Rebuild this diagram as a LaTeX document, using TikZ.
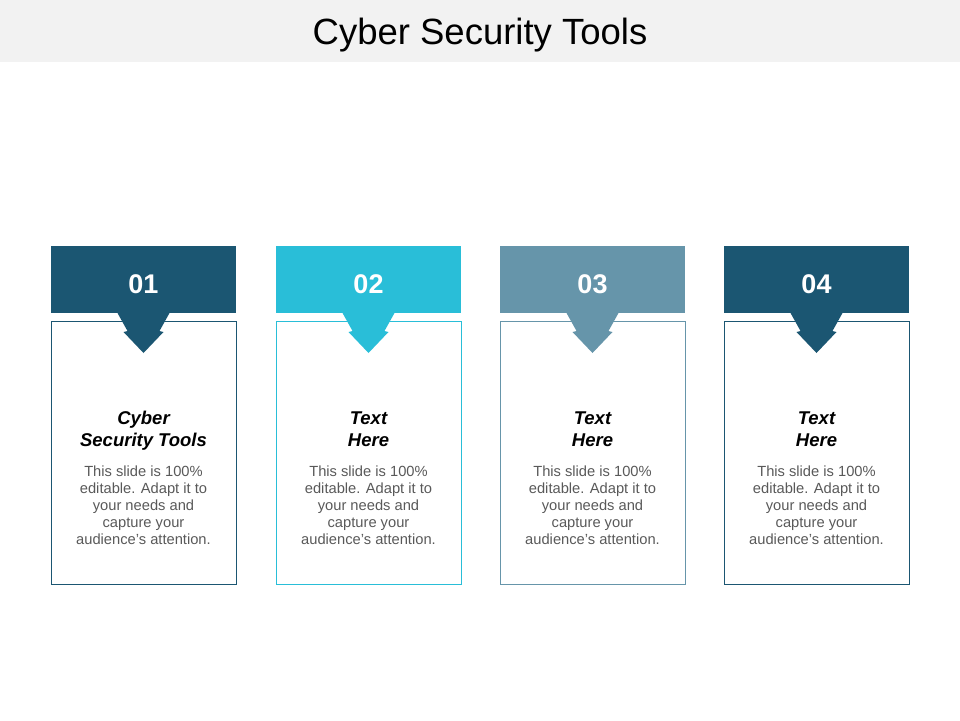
\documentclass[tikz,border=0pt]{standalone}
\usepackage{fontspec}
\setmainfont{Liberation Sans}
\definecolor{cdark}{HTML}{1B5672}
\definecolor{ccyan}{HTML}{29BED8}
\definecolor{cgray}{HTML}{6695AA}
\definecolor{ctext}{HTML}{595959}
\definecolor{cbar}{HTML}{F2F2F2}
\begin{document}
\begin{tikzpicture}[x=1pt,y=-1pt,
  titletext/.style={inner sep=0pt,anchor=base,font=\fontsize{36.5}{40}\selectfont,text=black},
  numtext/.style={inner sep=0pt,anchor=base,font=\fontsize{27}{30}\selectfont\bfseries,text=white},
  headtext/.style={inner sep=0pt,anchor=base,font=\fontsize{18.5}{22}\selectfont\bfseries\itshape,text=black},
  bodytext/.style={inner sep=0pt,anchor=base,font=\fontsize{14.7}{17}\selectfont,text=ctext},
  boxframe/.style={line width=0.9pt}
]
\useasboundingbox (0,0) rectangle (960,720);
\fill[cbar] (0,0) rectangle (960,62);
\node[titletext] (title) at (480,44) {Cyber Security Tools};
\foreach \cx/\col/\n/\ha/\hb [count=\i] in {143.5/cdark/01/Cyber/Security Tools,368.5/ccyan/02/Text/Here,592.5/cgray/03/Text/Here,816.5/cdark/04/Text/Here}{
  \fill[\col] (\cx-92.5,246) rectangle (\cx+92.5,313);
  \draw[\col,boxframe] (\cx-92.5,321) rectangle (\cx+92.5,584);
  \fill[\col] (\cx-26,313) -- (\cx+26,313) -- (\cx+16,331) -- (\cx+20,332) -- (\cx,353) -- (\cx-20,332) -- (\cx-16,331) -- cycle;
  \node[numtext] (num\i) at (\cx,293) {\n};
  \node[headtext] (heada\i) at (\cx,424) {\ha};
  \node[headtext] (headb\i) at (\cx,446) {\hb};
  \node[bodytext] (bodya\i) at (\cx,476) {This slide is 100\%};
  \node[bodytext] (bodyb\i) at (\cx,493.2) {editable. Adapt it to};
  \node[bodytext] (bodyc\i) at (\cx,510.4) {your needs and};
  \node[bodytext] (bodyd\i) at (\cx,527.6) {capture your};
  \node[bodytext] (bodye\i) at (\cx,544.8) {audience\char"27 s attention.};
}
\end{tikzpicture}
\end{document}
